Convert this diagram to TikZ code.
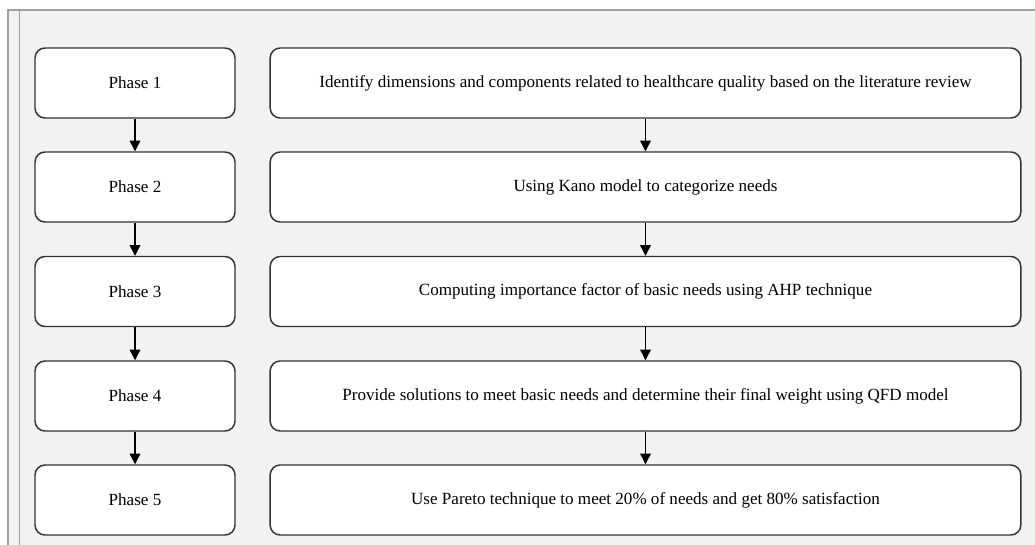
\documentclass[tikz,border=0pt]{standalone}
\usepackage{fontspec}
\setmainfont{Liberation Serif}
\usetikzlibrary{arrows.meta}
\definecolor{panelfill}{HTML}{F2F2F2}
\definecolor{panelline}{HTML}{A0A0A0}
\definecolor{boxline}{HTML}{333333}
\tikzset{
  phasebox/.style={draw=boxline, fill=white, line width=1.1pt, rounded corners=7.5pt,
    minimum width=150pt, minimum height=52.5pt, inner sep=0pt,
    font=\fontsize{12.8}{15}\selectfont},
  taskbox/.style={draw=boxline, fill=white, line width=1.1pt, rounded corners=7.5pt,
    minimum width=563pt, minimum height=52.5pt, inner sep=0pt,
    font=\fontsize{12.8}{15}\selectfont},
  flow/.style={draw=black, line width=1pt, -{Triangle[length=8pt,width=8pt]}}
}
\begin{document}
\begin{tikzpicture}[x=0.75pt,y=-0.75pt]
\useasboundingbox (0,0) rectangle (1035,544);
\fill[panelfill] (8,10) rectangle (1040,550);
\draw[panelline, line width=1pt] (8,550) -- (8,10) -- (1040,10);
\draw[panelline, line width=1pt] (19.5,10) -- (19.5,550);
\foreach \i/\y in {1/83, 2/187, 3/291.5, 4/396, 5/500}{
  \node[phasebox] (p\i) at (135,\y) {Phase \i};
}
\node[taskbox] (t1) at (645.5,83) {Identify dimensions and components related to healthcare quality based on the literature review};
\node[taskbox] (t2) at (645.5,187) {Using Kano model to categorize needs};
\node[taskbox] (t3) at (645.5,291.5) {Computing importance factor of basic needs using AHP technique};
\node[taskbox] (t4) at (645.5,396) {Provide solutions to meet basic needs and determine their final weight using QFD model};
\node[taskbox] (t5) at (645.5,500) {Use Pareto technique to meet 20\% of needs and get 80\% satisfaction};
\foreach \a/\b in {1/2,2/3,3/4,4/5}{
  \draw[flow] (p\a.south) -- (p\b.north);
  \draw[flow] (t\a.south) -- (t\b.north);
}
\end{tikzpicture}
\end{document}
